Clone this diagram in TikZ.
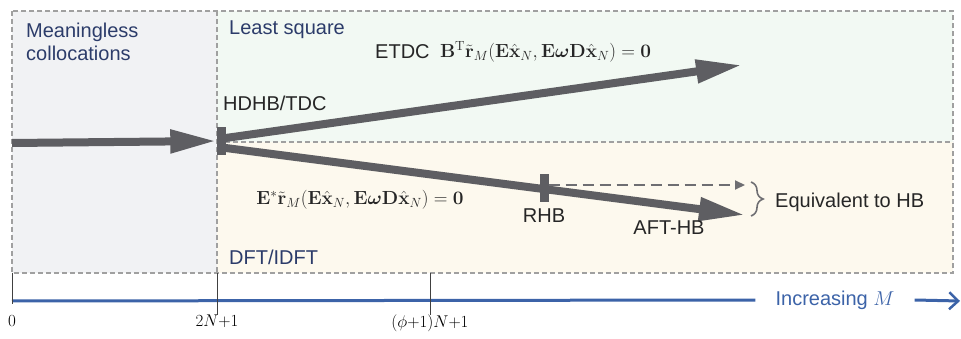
\RequirePackage{fix-cm}
\documentclass[tikz,border=0pt]{standalone}
\usepackage{amsmath,amssymb}
\usepackage{bm}
\usepackage[no-math]{fontspec}
\newfontfamily\labfont{Liberation Sans}
\usetikzlibrary{arrows.meta, positioning, decorations.pathreplacing}
\definecolor{inkblue}{RGB}{44, 60, 106}
\definecolor{axisblue}{RGB}{60, 99, 168}
\definecolor{arrowgray}{RGB}{94, 94, 98}
\definecolor{bordergray}{RGB}{160, 160, 160}
\definecolor{meaningfill}{RGB}{241, 242, 244}
\definecolor{lsqfill}{RGB}{242, 249, 243}
\definecolor{dftfill}{RGB}{253, 249, 238}

\begin{document}
\begin{tikzpicture}[
                x=1pt, y=-1pt,
                region/.style={draw=bordergray, line width=1.1pt, dash pattern=on 5pt off 3pt},
                lbl/.style={font=\labfont\fontsize{20}{23}\selectfont, text=inkblue, inner sep=0pt, anchor=west, align=left},
                txt/.style={font=\labfont\fontsize{20}{23}\selectfont, text=black!85, inner sep=0pt},
                eqn/.style={font=\fontsize{19}{23}\selectfont, text=black!85, inner sep=0pt},
                bigarrow/.style={draw=arrowgray, line width=8pt, -{Triangle[length=46pt, width=22pt]}},
                stopbar/.style={fill=arrowgray, inner sep=0pt, minimum width=9pt, minimum height=28pt},
                dasharrow/.style={draw=arrowgray!90, line width=2pt, dash pattern=on 11pt off 6pt, -{Triangle[length=10pt, width=9pt]}},
                tickline/.style={draw=black!75, line width=0.8pt},
                ticklbl/.style={font=\fontsize{17}{20}\selectfont, inner sep=0pt, anchor=north},
                axis/.style={draw=axisblue, line width=3pt}
            ]
                \useasboundingbox (0,0) rectangle (961,339);
                \fill[meaningfill] (12,11) rectangle (217,273);
                \fill[lsqfill] (217,11) rectangle (953,142);
                \fill[dftfill] (217,142) rectangle (953,273);
                \draw[region] (12,11) rectangle (953,273);
                \draw[region] (217,11) -- (217,273);
                \draw[region] (217,142) -- (953,142);

                \node [lbl] (meaning) at (26,42) {Meaningless\\collocations};
                \node [lbl] (lsq) at (229,30) {Least square};
                \node [lbl] (dft) at (229,257) {DFT/IDFT};

                \coordinate (src) at (12,143);
                \coordinate (lsqend) at (742,65);
                \coordinate (dftend) at (745,215);
                \node [stopbar] (hdhbbar) at (221,141) {};
                \node [stopbar] (rhbbar) at (544,188) {};

                \draw[bigarrow] (src) -- (hdhbbar.west);
                \draw[bigarrow] ([yshift=3pt]hdhbbar.east) -- (lsqend);
                \draw[bigarrow] ([yshift=-7pt]hdhbbar.east) -- (dftend);

                \node [txt, anchor=west] (hdhb) at (223,103) {HDHB/TDC};
                \node [txt, anchor=west] (etdc) at (375,52) {ETDC};
                \node [eqn, right=10pt of etdc] (etdceq) {$\mathbf{B}^{\mathrm{T}}\tilde{\mathbf{r}}_M(\mathbf{E}\hat{\mathbf{x}}_N,\mathbf{E}\bm{\omega}\mathbf{D}\hat{\mathbf{x}}_N)=\mathbf{0}$};
                \node [eqn] (fourier) at (360,200) {$\mathbf{E}^{*}\tilde{\mathbf{r}}_M(\mathbf{E}\hat{\mathbf{x}}_N,\mathbf{E}\bm{\omega}\mathbf{D}\hat{\mathbf{x}}_N)=\mathbf{0}$};
                \node [txt, below=6pt of rhbbar] (rhb) {RHB};
                \node [txt] (aft) at (669,228) {AFT-HB};

                \coordinate (dashend) at (745,185);
                \draw[dasharrow] ([yshift=3pt]rhbbar.east) -- (dashend);

                \coordinate (bracetop) at (751,182);
                \coordinate (bracebot) at (751,216);
                \draw[draw=arrowgray!90, line width=1.6pt, decoration={brace, amplitude=12pt}, decorate] (bracetop) -- (bracebot);
                \node [txt, anchor=west] (equiv) at (775,202) {Equivalent to HB};

                \coordinate (axstart) at (12,301);
                \coordinate (axend) at (960,301);
                \node [lbl, anchor=center, text=axisblue, inner xsep=20pt] (incr) at (835,300) {Increasing $M$};
                \draw[axis] (axstart) -- (incr.west);
                \draw[axis, -{Straight Barb[length=9pt, width=17pt, line width=2.5pt]}] (incr.east) -- (axend);

                \draw[tickline] (12,273) -- (12,304);
                \node [ticklbl] (tzero) at (12,315) {$0$};
                \node [ticklbl] (ttwo) at (217,315) {$2N{+}1$};
                \node [ticklbl] (tphi) at (430,315) {$(\phi{+}1)N{+}1$};
                \draw[tickline] (217,273) -- (ttwo.north);
                \draw[tickline] (430,273) -- (tphi.north);
            \end{tikzpicture}
\end{document}
